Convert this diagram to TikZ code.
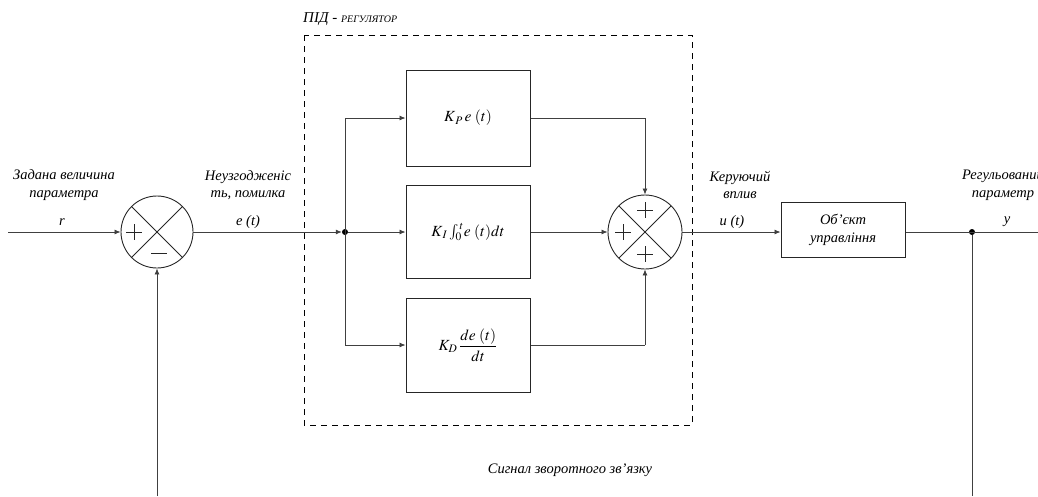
\documentclass[tikz,border=0pt]{standalone}
\usepackage{mathptmx}
\usepackage{fontspec}
\setmainfont{Liberation Serif}
\usetikzlibrary{arrows.meta}
\begin{document}
\begin{tikzpicture}[x=1pt,y=-1pt,
  lbl/.style={font=\fontsize{14.5}{17.5}\selectfont\itshape, align=center, inner sep=0pt},
  conn/.style={line width=0.8pt, draw=black!75},
  arr/.style={conn, -{Latex[length=6pt,width=5pt]}},
  blk/.style={draw=black!85, line width=1pt, minimum width=124pt, inner sep=0pt, font=\fontsize{15.5}{18}\selectfont},
  summer/.style={circle, draw=black!85, line width=0.9pt, minimum size=#1, inner sep=0pt,
    path picture={\draw[line width=0.8pt,black!85] (path picture bounding box.north west) -- (path picture bounding box.south east)
      (path picture bounding box.north east) -- (path picture bounding box.south west);}},
  sign/.style={line width=0.8pt, black!85},
  junct/.style={circle, fill=black, minimum size=6pt, inner sep=0pt}]
\useasboundingbox (0,0) rectangle (1038,496);

% PID frame
\draw[line width=1pt, dash pattern=on 6pt off 5pt] (304,35) rectangle (692,425);
\node[anchor=west, inner sep=0pt] (title) at (303,19) {\itshape\fontsize{15}{17}\selectfont ПІД - \fontsize{10}{12}\selectfont РЕГУЛЯТОР};

% nodes
\coordinate (in) at (8,232);
\node[summer=72pt] (s1) at (157,232) {};
\node[junct] (j1) at (345,232) {};
\node[blk, minimum height=96pt] (P) at (468,118) {$K_{\,P}\,e\;(t)$};
\node[blk, minimum height=93pt] (I) at (468,232) {$K_{\,I}\int_0^{\,t}\!e\;(t)dt$};
\node[blk, minimum height=94pt] (D) at (468,345) {$K_D\,{\displaystyle\frac{de\;(t)}{dt}}$};
\node[summer=74pt] (s2) at (645,232) {};
\node[draw=black!85, line width=1pt, minimum width=124pt, minimum height=55pt, lbl] (obj) at (843,230) {Об’єкт\\управління};
\node[junct] (j2) at (972,232) {};
\coordinate (out) at (1038,232);
\coordinate (fbL) at (157,496);
\coordinate (fbR) at (972,496);
\coordinate (bP) at (345,118);
\coordinate (bD) at (345,345);
\coordinate (cP) at (645,118);
\coordinate (cD) at (645,345);

% signs
\draw[sign] ([shift={(-23,0)}]s1.center) +(-8,0) -- +(8,0) +(0,-8) -- +(0,8);
\draw[sign] ([shift={(2,21)}]s1.center) +(-8,0) -- +(8,0);
\draw[sign] ([shift={(0,-22)}]s2.center) +(-8,0) -- +(8,0) +(0,-8) -- +(0,8);
\draw[sign] ([shift={(-22,0)}]s2.center) +(-8,0) -- +(8,0) +(0,-8) -- +(0,8);
\draw[sign] ([shift={(0,22)}]s2.center) +(-8,0) -- +(8,0) +(0,-8) -- +(0,8);

% connectors
\draw[arr] (in) -- (s1.west);
\draw[arr] (s1.east) -- (j1.west);
\draw[conn] (bP) -- (bD);
\draw[arr] (bP) -- (P.west);
\draw[arr] (j1) -- (I.west);
\draw[arr] (bD) -- (D.west);
\draw[conn] (P.east) -- (cP);
\draw[arr] (cP) -- (s2.north);
\draw[arr] (I.east) -- (s2.west);
\draw[conn] (D.east) -- (cD);
\draw[arr] (cD) -- (s2.south);
\draw[arr] (s2.east) -- (obj.west |- s2.east);
\draw[conn] (obj.east |- j2) -- (out);
\draw[conn] (j2) -- (fbR);
\draw[arr] (fbL) -- (s1.south);

% labels
\node[lbl] (l1) at (64,185) {Задана величина\\параметра};
\node[lbl] (lr) at (62,222) {r};
\node[lbl] (l2) at (248,185) {Неузгодженіс\\ть, помилка};
\node[lbl] (le) at (248,222) {e (t)};
\node[lbl] (l3) at (740,185) {Керуючий\\вплив};
\node[lbl] (lu) at (732,222) {u (t)};
\node[lbl] (l4) at (1003,185) {Регульований\\параметр};
\node[lbl] (ly) at (1007,222) {y};
\node[lbl, font=\fontsize{14.5}{17}\selectfont\itshape] (fb) at (570,470) {Сигнал зворотного зв'язку};
\end{tikzpicture}
\end{document}
